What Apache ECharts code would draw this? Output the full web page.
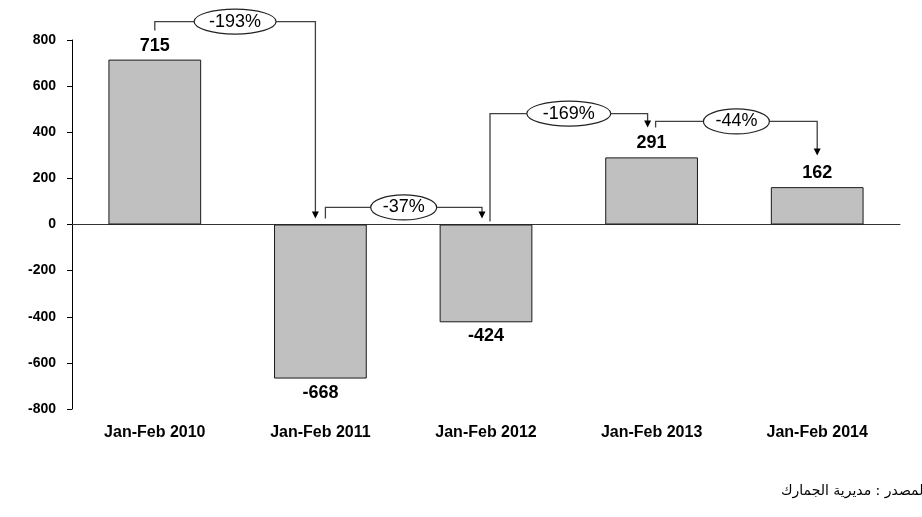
<!DOCTYPE html>
<html>
<head>
<meta charset="utf-8">
<script src="https://cdn.jsdelivr.net/npm/echarts@6/dist/echarts.min.js"></script>
<style>
html,body{margin:0;padding:0;background:#fff;}
#chart{width:922px;height:517px;}
</style>
</head>
<body>
<div id="chart"></div>
<script>
// ---- data ----
const categories = ['Jan-Feb 2010', 'Jan-Feb 2011', 'Jan-Feb 2012', 'Jan-Feb 2013', 'Jan-Feb 2014'];
const values = [715, -668, -424, 291, 162];
const yTicks = [-800, -600, -400, -200, 0, 200, 400, 600, 800];
// change annotations: from category, to category, label
const changeFrom = [0, 1, 2, 3];
const changeTo = [1, 2, 3, 4];
const changeLabels = ['-193%', '-37%', '-169%', '-44%'];
// connector levels in data units: start, horizontal level, arrow tip
const changeStart = [841, 26, 13, 421];
const changeLevel = [880, 74, 481, 447];
const changeEnd = [26, 26, 421, 299];
const source = 'المصدر : مديرية الجمارك';

// ---- styling helpers ----
const startOffset = [0, 5, 4, 4];
const endOffset = [-5, -4, -4, 0];
const ellipseRx = [41, 33, 42, 33];

const chart = echarts.init(document.getElementById('chart'), null, {renderer: 'canvas'});

const connectorData = changeFrom.map((f, i) => [f, changeTo[i], changeStart[i], changeLevel[i], changeEnd[i], i]);

const option = {
  backgroundColor: '#ffffff',
  animation: false,
  grid: {left: 72, right: 22, top: 40, bottom: 108, containLabel: false},
  xAxis: [{
    type: 'category',
    data: categories,
    axisLine: {onZero: true, lineStyle: {color: '#333', width: 1}},
    axisTick: {show: false},
    axisLabel: {show: false},
    splitLine: {show: false}
  }, {
    type: 'category',
    data: categories,
    position: 'bottom',
    axisLine: {show: false, onZero: false},
    axisTick: {show: false},
    axisLabel: {
      show: true, margin: 16, color: '#000',
      fontFamily: '"Liberation Sans", Arial, sans-serif',
      fontWeight: 'bold', fontSize: 16
    },
    splitLine: {show: false}
  }],
  yAxis: {
    type: 'value',
    min: yTicks[0], max: yTicks[yTicks.length - 1], interval: 200,
    axisLine: {show: true, lineStyle: {color: '#000', width: 1}},
    axisTick: {show: true, inside: false, length: 5, lineStyle: {color: '#000'}},
    axisLabel: {
      color: '#000', fontFamily: '"Liberation Sans", Arial, sans-serif',
      fontWeight: 'bold', fontSize: 14, margin: 16
    },
    splitLine: {show: false}
  },
  series: [{
    type: 'bar',
    xAxisIndex: 0,
    barWidth: '56%',
    data: values.map(v => ({value: v, label: {position: v >= 0 ? 'top' : 'bottom'}})),
    itemStyle: {color: '#c0c0c0', borderColor: '#1a1a1a', borderWidth: 1},
    label: {
      show: true, distance: 5, color: '#000',
      fontFamily: '"Liberation Sans", Arial, sans-serif', fontWeight: 'bold', fontSize: 18
    },
    z: 2
  }, {
    type: 'custom',
    xAxisIndex: 0,
    clip: false,
    silent: true,
    z: 5,
    data: connectorData,
    renderItem: function (params, api) {
      const i = api.value(5);
      const pStart = api.coord([api.value(0), api.value(2)]);
      const pLevelA = api.coord([api.value(0), api.value(3)]);
      const pLevelB = api.coord([api.value(1), api.value(3)]);
      const pEnd = api.coord([api.value(1), api.value(4)]);
      const x1 = pStart[0] + startOffset[i];
      const x2 = pLevelB[0] + endOffset[i];
      const yL = pLevelA[1];
      const yS = pStart[1];
      const yE = pEnd[1];
      const cx = (x1 + x2) / 2;
      const lineColor = '#404040';
      return {
        type: 'group',
        children: [{
          type: 'polyline',
          shape: {points: [[x1, yS], [x1, yL], [x2, yL], [x2, yE - 6]]},
          style: {stroke: lineColor, lineWidth: 1.3, fill: null}
        }, {
          type: 'polygon',
          shape: {points: [[x2 - 3.5, yE - 7], [x2 + 3.5, yE - 7], [x2, yE]]},
          style: {fill: '#000', stroke: null}
        }, {
          type: 'ellipse',
          shape: {cx: cx, cy: yL, rx: ellipseRx[i], ry: 12.5},
          style: {fill: '#fff', stroke: '#222', lineWidth: 1.2}
        }, {
          type: 'text',
          x: cx, y: yL,
          style: {
            text: changeLabels[i], align: 'center', verticalAlign: 'middle',
            fill: '#000', font: '18px "Liberation Sans", Arial, sans-serif'
          }
        }]
      };
    }
  }],
  graphic: [{
    type: 'text',
    left: 781,
    top: 484,
    style: {
      text: source, fill: '#000',
      font: '14px "DejaVu Sans", "Noto Sans", sans-serif'
    }
  }]
};
chart.setOption(option);
</script>
</body>
</html>
